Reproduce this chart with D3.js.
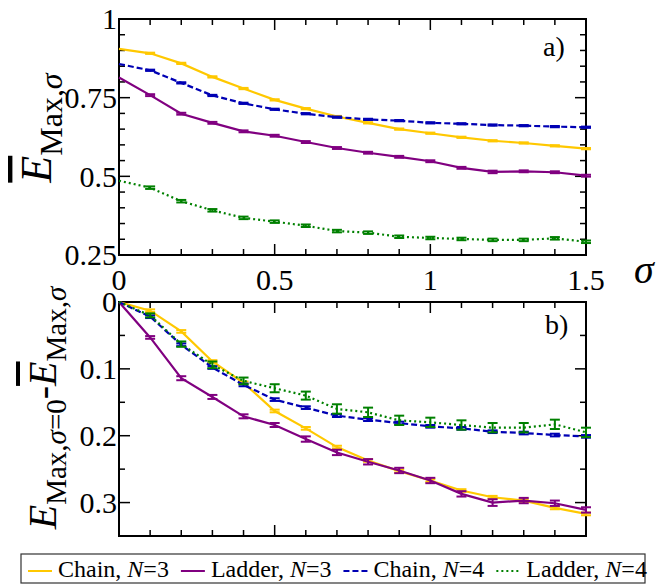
<!DOCTYPE html>
<html>
<head>
<meta charset="utf-8">
<script src="https://cdn.jsdelivr.net/npm/d3@7"></script>
</head>
<body style="margin:0">
<div id="chart"></div>
<script>
// sigma values on the x axis
var sigma = [0, 0.1, 0.2, 0.3, 0.4, 0.5, 0.6, 0.7, 0.8, 0.9, 1.0, 1.1, 1.2, 1.3, 1.4, 1.5];

// panel a) mean maximal energy
var topChain3  = [0.905, 0.891, 0.859, 0.816, 0.779, 0.743, 0.715, 0.690, 0.670, 0.650, 0.637, 0.624, 0.613, 0.606, 0.597, 0.588];
var topLadder3 = [0.814, 0.758, 0.699, 0.670, 0.643, 0.629, 0.609, 0.590, 0.575, 0.562, 0.548, 0.527, 0.514, 0.516, 0.513, 0.502];
var topChain4  = [0.857, 0.837, 0.797, 0.757, 0.732, 0.713, 0.699, 0.688, 0.681, 0.677, 0.670, 0.667, 0.663, 0.661, 0.658, 0.656];
var topLadder4 = [0.486, 0.464, 0.421, 0.392, 0.368, 0.356, 0.343, 0.326, 0.321, 0.308, 0.304, 0.301, 0.298, 0.298, 0.303, 0.292];
var topErrChain3  = [0, 0.002, 0.002, 0.002, 0.002, 0.002, 0.002, 0.002, 0.002, 0.002, 0.002, 0.002, 0.002, 0.002, 0.002, 0.002];
var topErrLadder3 = [0, 0.003, 0.003, 0.003, 0.003, 0.003, 0.003, 0.003, 0.003, 0.003, 0.003, 0.003, 0.004, 0.003, 0.003, 0.003];
var topErrChain4  = [0, 0.002, 0.002, 0.002, 0.002, 0.002, 0.002, 0.002, 0.002, 0.002, 0.002, 0.002, 0.002, 0.002, 0.002, 0.002];
var topErrLadder4 = [0, 0.004, 0.004, 0.004, 0.004, 0.004, 0.004, 0.004, 0.004, 0.004, 0.004, 0.004, 0.004, 0.004, 0.004, 0.004];

// panel b) drop from sigma = 0
var botChain3  = [0, 0.013, 0.044, 0.089, 0.121, 0.163, 0.189, 0.217, 0.237, 0.253, 0.267, 0.282, 0.292, 0.297, 0.308, 0.317];
var botLadder3 = [0, 0.053, 0.114, 0.142, 0.171, 0.184, 0.205, 0.225, 0.239, 0.252, 0.267, 0.287, 0.300, 0.297, 0.301, 0.311];
var botChain4  = [0, 0.022, 0.064, 0.098, 0.124, 0.146, 0.158, 0.170, 0.176, 0.181, 0.186, 0.189, 0.194, 0.196, 0.199, 0.201];
var botLadder4 = [0, 0.020, 0.063, 0.094, 0.118, 0.129, 0.140, 0.160, 0.165, 0.177, 0.180, 0.184, 0.188, 0.188, 0.183, 0.195];
var botErrChain3  = [0, 0.002, 0.002, 0.002, 0.002, 0.002, 0.002, 0.002, 0.002, 0.002, 0.002, 0.002, 0.002, 0.002, 0.002, 0.002];
var botErrLadder3 = [0, 0.002, 0.003, 0.003, 0.003, 0.003, 0.004, 0.004, 0.004, 0.004, 0.004, 0.004, 0.005, 0.004, 0.004, 0.004];
var botErrChain4  = [0, 0.002, 0.002, 0.002, 0.002, 0.002, 0.002, 0.002, 0.002, 0.002, 0.002, 0.002, 0.002, 0.002, 0.002, 0.002];
var botErrLadder4 = [0, 0.003, 0.004, 0.005, 0.005, 0.006, 0.006, 0.007, 0.007, 0.007, 0.007, 0.007, 0.007, 0.007, 0.007, 0.007];

// tick labels
var xTickLabels = ["0", "0.5", "1", "1.5"];
var topTickLabels = ["0.25", "0.5", "0.75", "1"];
var botTickLabels = ["0", "0.1", "0.2", "0.3"];

var seriesNames = ["Chain", "Ladder", "Chain", "Ladder"];
var seriesN = ["3", "3", "4", "4"];
var colors = ["#ffc800", "#800080", "#0000b4", "#008000"];
var dashes = [null, null, "6,3", "2,3"];

var FONT = "'Liberation Serif'";

var W = 660, H = 584;
var left = 119, right = 586;
var topA = 19, botA = 255;
var topB = 302, botB = 536;

var svg = d3.select("#chart").append("svg")
    .attr("width", W).attr("height", H)
    .attr("font-family", "Liberation Serif");

var x = d3.scaleLinear().domain([0, 1.5]).range([left, right]);
var yA = d3.scaleLinear().domain([0.25, 1]).range([botA, topA]);
var yB = d3.scaleLinear().domain([0, 0.35]).range([topB, botB]);

function ticks(lo, hi, step) {
  var out = [];
  for (var i = 0; lo + i * step <= hi + 1e-9; i++) out.push(+(lo + i * step).toFixed(3));
  return out;
}

function label(sel, size) {
  return sel.style("font-family", FONT).style("font-size", size + "px");
}

function frame(y, y0, y1, majorY, minorY, yLabels, showX) {
  var g = svg.append("g");
  var major = 11, minor = 6;
  var xMinor = ticks(0, 1.5, 0.1), xMajor = ticks(0, 1.5, 0.5);
  var isMajor = function (v, list) { return list.some(function (m) { return Math.abs(m - v) < 1e-6; }); };

  // x ticks bottom and top, inward
  xMinor.forEach(function (v) {
    var len = isMajor(v, xMajor) ? major : minor;
    g.append("line").attr("x1", x(v)).attr("x2", x(v)).attr("y1", y1).attr("y2", y1 - len);
    g.append("line").attr("x1", x(v)).attr("x2", x(v)).attr("y1", y0).attr("y2", y0 + len);
  });
  // y ticks left and right, inward
  minorY.forEach(function (v) {
    var len = isMajor(v, majorY) ? major : minor;
    g.append("line").attr("x1", left).attr("x2", left + len).attr("y1", y(v)).attr("y2", y(v));
    g.append("line").attr("x1", right).attr("x2", right - len).attr("y1", y(v)).attr("y2", y(v));
  });
  g.selectAll("line").attr("stroke", "#000").attr("stroke-width", 1.5);

  g.append("rect").attr("x", left).attr("y", y0).attr("width", right - left).attr("height", y1 - y0)
    .attr("fill", "none").attr("stroke", "#000").attr("stroke-width", 2);

  label(g.selectAll("text.yl").data(majorY).enter().append("text"), 30)
    .attr("x", left - 2).attr("y", function (d) { return y(d); })
    .attr("dy", "0.34em").attr("text-anchor", "end")
    .text(function (d, i) { return yLabels[i]; });

  if (showX) {
    label(g.selectAll("text.xl").data(xMajor).enter().append("text"), 30)
      .attr("x", function (d) { return x(d); }).attr("y", y1 + 35)
      .attr("text-anchor", "middle")
      .text(function (d, i) { return xTickLabels[i]; });
  }
}

frame(yA, topA, botA, ticks(0.25, 1, 0.25), ticks(0.25, 1, 0.05), topTickLabels, true);
frame(yB, topB, botB, ticks(0, 0.3, 0.1), ticks(0, 0.35, 0.05), botTickLabels, false);

function drawSeries(y, vals, errs, i) {
  var pts = sigma.map(function (s, k) { return { s: s, v: vals[k], e: errs[k] }; });
  var g = svg.append("g");
  var line = d3.line().x(function (d) { return x(d.s); }).y(function (d) { return y(d.v); });
  g.append("path").datum(pts).attr("d", line)
    .attr("fill", "none").attr("stroke", colors[i]).attr("stroke-width", 2.2)
    .attr("stroke-dasharray", dashes[i]);
  var bars = g.selectAll("g.eb").data(pts.filter(function (d) { return d.e > 0; })).enter().append("g")
    .attr("stroke", colors[i]).attr("stroke-width", 2);
  bars.append("line").attr("x1", function (d) { return x(d.s); }).attr("x2", function (d) { return x(d.s); })
    .attr("y1", function (d) { return y(d.v - d.e); }).attr("y2", function (d) { return y(d.v + d.e); });
  [-1, 1].forEach(function (sgn) {
    bars.append("line")
      .attr("x1", function (d) { return x(d.s) - 5; }).attr("x2", function (d) { return x(d.s) + 5; })
      .attr("y1", function (d) { return y(d.v + sgn * d.e); }).attr("y2", function (d) { return y(d.v + sgn * d.e); });
  });
}

[[topChain3, topErrChain3], [topLadder3, topErrLadder3], [topChain4, topErrChain4], [topLadder4, topErrLadder4]]
  .forEach(function (p, i) { drawSeries(yA, p[0], p[1], i); });
[[botChain3, botErrChain3], [botLadder3, botErrLadder3], [botChain4, botErrChain4], [botLadder4, botErrLadder4]]
  .forEach(function (p, i) { drawSeries(yB, p[0], p[1], i); });

// panel tags and sigma axis title
label(svg.append("text"), 28).attr("x", 543).attr("y", 56).text("a)");
label(svg.append("text"), 28).attr("x", 545).attr("y", 334).text("b)");
label(svg.append("text"), 40).attr("x", 634).attr("y", 283).style("font-style", "italic").text("σ");

// y axis titles
var t1 = label(svg.append("text"), 44).attr("transform", "translate(51,128) rotate(-90)")
  .attr("text-anchor", "middle");
t1.append("tspan").style("font-style", "italic").style("text-decoration", "overline").text("E");
t1.append("tspan").attr("dy", 11).style("font-size", "32px").text("Max,");
t1.append("tspan").style("font-size", "32px").style("font-style", "italic").text("σ");

var t2 = label(svg.append("text"), 40).attr("transform", "translate(56,408) rotate(-90)")
  .attr("text-anchor", "middle");
t2.append("tspan").style("font-style", "italic").text("E");
t2.append("tspan").attr("dy", 10).style("font-size", "29px").text("Max,");
t2.append("tspan").style("font-size", "29px").style("font-style", "italic").text("σ");
t2.append("tspan").style("font-size", "29px").text("=0");
t2.append("tspan").attr("dy", -10).text("-");
t2.append("tspan").style("font-style", "italic").style("text-decoration", "overline").text("E");
t2.append("tspan").attr("dy", 10).style("font-size", "29px").text("Max,");
t2.append("tspan").style("font-size", "29px").style("font-style", "italic").text("σ");

// legend
var lg = svg.append("g");
lg.append("rect").attr("x", 21).attr("y", 554).attr("width", 624).attr("height", 29)
  .attr("fill", "none").attr("stroke", "#333").attr("stroke-width", 1.2);
var lx = 28;
seriesNames.forEach(function (name, i) {
  lg.append("line").attr("x1", lx).attr("x2", lx + 24).attr("y1", 571).attr("y2", 571)
    .attr("stroke", colors[i]).attr("stroke-width", 2).attr("stroke-dasharray", dashes[i]);
  var t = label(lg.append("text"), 24).attr("x", lx + 30).attr("y", 577);
  t.append("tspan").text(name + ", ");
  t.append("tspan").style("font-style", "italic").text("N");
  t.append("tspan").text("=" + seriesN[i]);
  lx = lx + 30 + t.node().getComputedTextLength() + 12;
});
</script>
</body>
</html>
